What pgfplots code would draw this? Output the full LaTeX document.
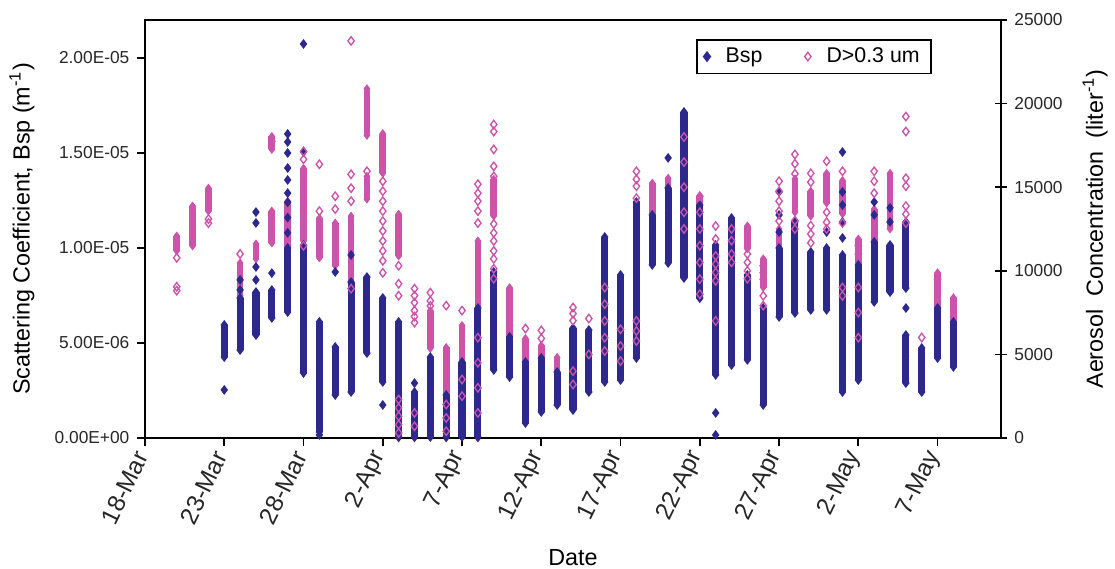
\documentclass[border=0pt]{standalone}
\usepackage{fontspec}
\setmainfont{Liberation Sans}
\usepackage{pgfplots}
\pgfplotsset{compat=1.18}
\definecolor{bspc}{RGB}{44,40,140}
\definecolor{pinkc}{RGB}{205,82,170}
\pgfplotsset{base/.style={scale only axis, width=385.2pt, height=188.1pt, xmin=0, xmax=54}}
\begin{document}
\begin{tikzpicture}
% pink dense ranges (right axis units)
\begin{axis}[base, ymin=0, ymax=25000, hide axis]
\addplot[pinkc, line width=3.0pt, unbounded coords=jump, mark=diamond*, mark size=1.7pt, mark options={line width=0.4pt}] coordinates {
(2,11190)(2,12080)(2,nan)
(3,11490)(3,13870)(3,nan)
(4,13570)(4,14940)(4,nan)
(6,8510)(6,10475)(6,nan)
(7,10715)(7,11605)(7,nan)
(8,11665)(8,13570)(8,nan)
(8,17260)(8,18035)(8,nan)
(9,11070)(9,14165)(9,nan)
(10,11785)(10,16130)(10,nan)
(11,10775)(11,13150)(11,nan)
(12,10300)(12,12855)(12,nan)
(13,9285)(13,13270)(13,nan)
(14,18100)(14,20890)(14,nan)
(14,14285)(14,15650)(14,nan)
(15,15830)(15,18210)(15,nan)
(16,10890)(16,13390)(16,nan)
(16,0)(16,2560)(16,nan)
(17,0)(17,2260)(17,nan)
(18,5355)(18,7620)(18,nan)
(19,0)(19,5415)(19,nan)
(20,1550)(20,6725)(20,nan)
(21,0)(21,11785)(21,nan)
(22,13270)(22,15475)(22,nan)
(23,6130)(23,8990)(23,nan)
(24,4345)(24,5950)(24,nan)
(25,3570)(25,5535)(25,nan)
(26,2560)(26,4820)(26,nan)
(27,2560)(27,4525)(27,nan)
(28,4345)(28,6430)(28,nan)
(29,4760)(29,9525)(29,nan)
(30,4165)(30,6905)(30,nan)
(31,5535)(31,7320)(31,nan)
(32,12500)(32,15240)(32,nan)
(33,13450)(33,15535)(33,nan)
(34,11960)(34,18630)(34,nan)
(35,8335)(35,14460)(35,nan)
(36,9285)(36,10890)(36,nan)
(37,10300)(37,12500)(37,nan)
(38,11310)(38,12680)(38,nan)
(39,9000)(39,10715)(39,nan)
(40,10890)(40,12500)(40,nan)
(41,13500)(41,15500)(41,nan)
(42,13270)(42,14760)(42,nan)
(43,14050)(43,15830)(43,nan)
(44,13400)(44,15400)(44,nan)
(45,4165)(45,11900)(45,nan)
(46,11310)(46,13690)(46,nan)
(47,12500)(47,15830)(47,nan)
(48,3570)(48,4940)(48,nan)
(49,3155)(49,4760)(49,nan)
(50,6725)(50,9880)(50,nan)
(51,6310)(51,8390)
};
\end{axis}
% left axis: Bsp (values in 1e-6 m^-1)
\begin{axis}[base, name=ax, ymin=0, ymax=22,
  axis line style={line width=0.9pt}, tick style={line width=0.8pt, black},
  tick align=outside, major tick length=3.5pt,
  xtick pos=left, ytick pos=left,
  ytick={0,5,10,15,20},
  yticklabels={0.00E+00,5.00E-06,1.00E-05,1.50E-05,2.00E-05},
  xtick={0,5,10,15,20,25,30,35,40,45,50},
  xticklabels={18-Mar,23-Mar,28-Mar,2-Apr,7-Apr,12-Apr,17-Apr,22-Apr,27-Apr,2-May,7-May},
  x tick label style={rotate=64, anchor=east, font=\fontsize{11}{12}\selectfont, color=black!85},
  y tick label style={font=\fontsize{7.8}{9}\selectfont, color=black!85},
  xlabel={Date},
  xlabel style={at={(axis description cs:0.5,-0.285)}, anchor=center, font=\fontsize{10.5}{12}\selectfont},
  ylabel={Scattering Coefficient, Bsp (m\textsuperscript{-1})},
  ylabel style={at={(axis description cs:-0.1438,0.5)}, anchor=center, font=\fontsize{10.5}{12}\selectfont},
]
\addplot[bspc, line width=3.2pt, unbounded coords=jump, mark=diamond*, mark size=1.9pt, mark options={line width=0.4pt}] coordinates {
(5,4.26)(5,5.95)(5,nan)
(6,4.63)(6,7.37)(6,nan)
(7,5.42)(7,7.68)(7,nan)
(8,6.32)(8,7.79)(8,nan)
(9,6.63)(9,10.0)(9,nan)
(10,3.42)(10,10.16)(10,nan)
(11,0.32)(11,6.11)(11,nan)
(12,2.26)(12,4.79)(12,nan)
(13,2.42)(13,8.21)(13,nan)
(14,4.47)(14,8.47)(14,nan)
(15,2.95)(15,7.37)(15,nan)
(16,0.05)(16,6.11)(16,nan)
(17,0.05)(17,2.42)(17,nan)
(18,0.05)(18,4.26)(18,nan)
(19,0.05)(19,2.26)(19,nan)
(20,0.05)(20,4.0)(20,nan)
(21,0.05)(21,6.84)(21,nan)
(22,3.58)(22,8.74)(22,nan)
(23,3.21)(23,5.32)(23,nan)
(24,0.79)(24,4.0)(24,nan)
(25,1.37)(25,4.21)(25,nan)
(26,1.74)(26,3.47)(26,nan)
(27,1.47)(27,5.79)(27,nan)
(28,2.42)(28,5.68)(28,nan)
(29,2.95)(29,10.58)(29,nan)
(30,3.05)(30,8.58)(30,nan)
(31,4.21)(31,12.42)(31,nan)
(32,9.11)(32,11.74)(32,nan)
(33,9.21)(33,13.16)(33,nan)
(34,8.42)(34,17.16)(34,nan)
(35,7.37)(35,12.26)(35,nan)
(36,3.32)(36,10.16)(36,nan)
(37,3.84)(37,11.58)(37,nan)
(38,4.11)(38,8.58)(38,nan)
(39,1.74)(39,6.84)(39,nan)
(40,6.37)(40,10.0)(40,nan)
(41,6.58)(41,11.37)(41,nan)
(42,6.74)(42,9.79)(42,nan)
(43,6.74)(43,10.0)(43,nan)
(44,2.42)(44,9.63)(44,nan)
(45,3.05)(45,9.11)(45,nan)
(46,7.16)(46,10.32)(46,nan)
(47,7.68)(47,10.16)(47,nan)
(48,7.89)(48,11.37)(48,nan)
(48,2.89)(48,5.42)(48,nan)
(49,2.42)(49,4.74)(49,nan)
(50,4.21)(50,6.84)(50,nan)
(51,3.74)(51,6.11)
};
\addplot[only marks, mark=diamond*, mark size=1.9pt, bspc] coordinates {
(5,2.53)
(6,8.32)(6,7.79)
(7,11.89)(7,11.32)(7,9.0)(7,8.32)
(8,8.68)
(9,16.0)(9,15.58)(9,15.0)(9,14.21)(9,13.58)(9,12.89)(9,12.4)(9,11.6)(9,10.8)
(10,20.74)(10,15.05)
(11,0.16)
(12,8.74)
(13,9.63)
(15,1.74)
(17,2.89)
(33,14.74)
(36,1.32)(36,0.16)
(40,12.95)(40,11.74)(40,10.84)
(43,10.84)
(44,15.05)(44,12.95)(44,12.26)(44,11.37)(44,10.53)
(46,12.42)(46,11.74)
(47,12.11)(47,11.37)
(48,6.84)
};
\end{axis}
% right axis: aerosol concentration
\begin{axis}[base, ymin=0, ymax=25000,
  axis y line*=right, axis x line=none, scaled y ticks=false,
  axis line style={line width=0.9pt}, tick style={line width=0.8pt, black},
  tick align=center, major tick length=5pt,
  ytick={0,5000,10000,15000,20000,25000},
  yticklabels={0,5000,10000,15000,20000,25000},
  y tick label style={font=\fontsize{7.8}{9}\selectfont, color=black!85},
  ylabel={Aerosol\ \ Concentration\ \ (liter\textsuperscript{-1})},
  ylabel style={at={(axis description cs:1.11,0.5)}, anchor=center, font=\fontsize{10.5}{12}\selectfont},
  legend columns=2,
  legend style={at={(rel axis cs:0.919,0.955)}, anchor=north east, draw=black, line width=0.8pt,
    font=\fontsize{9.6}{11}\selectfont, inner xsep=3pt, inner ysep=1.5pt,
    /tikz/every odd column/.append style={column sep=5pt},
    /tikz/every even column/.append style={column sep=17pt}},
]
\addlegendimage{only marks, mark=diamond*, mark size=1.9pt, bspc}
\addlegendimage{only marks, mark=diamond, mark size=1.9pt, pinkc, mark options={line width=0.6pt}}
\addplot[only marks, mark=diamond, mark size=1.9pt, pinkc, mark options={line width=0.6pt}, forget plot] coordinates {
(2,10775)(2,9045)(2,8810)
(4,13095)(4,12855)
(6,11010)
(8,17740)
(10,17140)(10,16665)(10,11490)
(11,16370)(11,13570)
(12,14460)(12,13690)
(13,23750)(13,15770)(13,14940)(13,14165)(13,8930)
(14,15950)
(15,15355)(15,14760)(15,14165)(15,13570)(15,12975)(15,12380)(15,11785)(15,11190)(15,10595)(15,9880)
(16,10300)(16,9225)(16,8510)(16,2300)(16,1800)(16,1300)(16,800)(16,300)
(17,8930)(17,8510)(17,8095)(17,7620)(17,7260)(17,6905)(17,1500)(17,700)
(18,8690)(18,8200)(18,7900)
(19,7915)(19,2000)(19,1200)(19,400)
(20,7620)(20,3500)(20,2500)
(21,15180)(21,14640)(21,14165)(21,13570)(21,12855)(21,6000)(21,4500)(21,3000)(21,1500)
(22,18750)(22,18330)(22,17260)(22,16250)(22,15650)(22,12800)(22,12260)(22,11785)(22,11190)(22,10715)(22,10120)(22,9525)
(24,6545)
(25,6430)(25,5950)
(27,7800)(27,7440)(27,7025)(27,4000)(27,3200)
(28,7140)(28,5000)
(29,9000)(29,8000)(29,7000)(29,6000)(29,5200)
(30,6500)(30,5500)(30,4600)
(31,15950)(31,15475)(31,15060)(31,14345)(31,7000)(31,6400)(31,5800)
(34,18000)(34,16500)(34,15000)(34,13500)(34,12500)
(35,14460)(35,13500)(35,12500)(35,11500)(35,10500)(35,9500)(35,8600)
(36,12680)(36,11900)(36,10890)(36,10400)(36,9900)(36,9400)(36,7000)
(37,12500)(37,11800)(37,11000)(37,10500)
(38,11000)(38,10500)(38,10000)(38,9525)
(39,10300)(39,9880)(39,9500)(39,8500)(39,7915)
(40,15355)(40,14760)(40,14165)(40,13570)(40,12975)
(41,16960)(41,16400)(41,15800)(41,13000)(41,12500)
(42,15830)(42,15300)(42,12700)(42,12200)(42,11665)
(43,16550)(43,13500)(43,12900)(43,12500)
(44,15950)(44,12855)(44,9000)(44,8500)
(45,11500)(45,11000)(45,9000)(45,7500)(45,6000)
(46,15950)(46,15355)(46,14640)
(48,19225)(48,18330)(48,15535)(48,15060)(48,13870)(48,13390)(48,12855)
(49,6010)
(50,9500)
};
\legend{Bsp, D>0.3 um}
\end{axis}
\pgfresetboundingbox
\path[use as bounding box] (ax.south west) ++(-65.25pt,-58.95pt) rectangle ([xshift=51.3pt,yshift=9pt]ax.north east);
\end{tikzpicture}
\end{document}
